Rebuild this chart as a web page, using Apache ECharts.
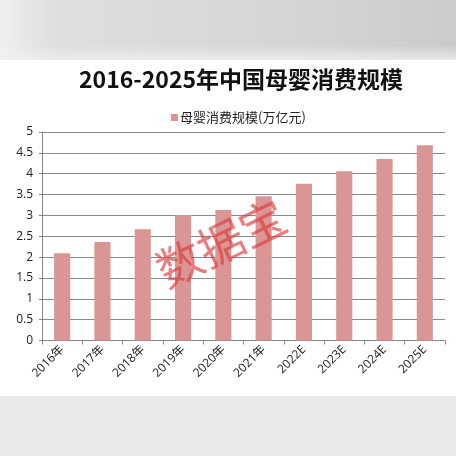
<!DOCTYPE html>
<html><head><meta charset="utf-8">
<script src="https://cdn.jsdelivr.net/npm/echarts@6/dist/echarts.min.js"></script>
<style>html,body{margin:0;padding:0;background:#fff}#c{width:456px;height:456px}</style>
</head><body><div id="c"></div>
<script>
const categories = ['2016年','2017年','2018年','2019年','2020年','2021年','2022E','2023E','2024E','2025E'];
const values = [2.09, 2.36, 2.67, 3.01, 3.13, 3.46, 3.76, 4.06, 4.35, 4.68];
const seriesName = '母婴消费规模(万亿元)';
const titleText = '2016-2025年中国母婴消费规模';
const watermark = '数据宝';

const chart = echarts.init(document.getElementById('c'));
chart.setOption({
  animation: false,
  backgroundColor: '#ffffff',
  graphic: [
    {type:'rect', z:-10, shape:{x:0,y:0,width:456,height:60},
     style:{fill:new echarts.graphic.LinearGradient(0,0,1,0,[{offset:0,color:'#f0f0f0'},{offset:0.12,color:'#dedede'},{offset:0.6,color:'#d6d6d6'},{offset:1,color:'#cbcbcb'}])}},
    {type:'rect', z:-9, shape:{x:0,y:45,width:456,height:15},
     style:{fill:new echarts.graphic.LinearGradient(0,0,0,1,[{offset:0,color:'rgba(240,240,240,0)'},{offset:1,color:'rgba(240,240,240,0.8)'}])}},
    {type:'rect', z:-10, shape:{x:0,y:396,width:456,height:60},
     style:{fill:'#ebe8e8'}},
    {type:'text', z:100, x:221, y:243, rotation:Math.PI*26/180,
     style:{text:watermark, font:'46px "Noto Sans CJK SC"', fill:'rgba(222,62,66,0.68)', align:'center', verticalAlign:'middle'}}
  ],
  title: {
    text: titleText, left: 74, top: 63,
    textStyle: {fontSize: 23, fontWeight: 'bold', color: '#111', fontFamily: '"Noto Sans CJK SC", sans-serif'}
  },
  legend: {
    data: [seriesName], left: 166, top: 106,
    icon: 'rect', itemWidth: 7, itemHeight: 7, itemGap: 4,
    textStyle: {fontSize: 13, color: '#222', fontFamily: '"Noto Sans CJK SC", sans-serif', padding:[0,0,0,-3]}
  },
  grid: {left: 42, right: 11, top: 132, bottom: 115.5, containLabel: false},
  xAxis: {
    type: 'category', data: categories,
    axisLine: {lineStyle: {color: '#868686'}},
    axisTick: {show: true, length: 4, lineStyle: {color: '#868686'}},
    axisLabel: {rotate: 45, fontSize: 12, color: '#222', margin: 7, fontFamily: '"Open Sans", "Noto Sans CJK SC", sans-serif'}
  },
  yAxis: {
    type: 'value', min: 0, max: 5, interval: 0.5,
    axisLine: {show: true, lineStyle: {color: '#868686'}},
    axisTick: {show: true, length: 3, lineStyle: {color: '#868686'}},
    splitLine: {lineStyle: {color: '#8a8a8a'}},
    axisLabel: {fontSize: 12, color: '#222', margin: 9, fontFamily: '"Open Sans", sans-serif'}
  },
  series: [{
    name: seriesName, type: 'bar', data: values, barWidth: '40%',
    itemStyle: {color: '#d99694'}
  }]
});
</script></body></html>
